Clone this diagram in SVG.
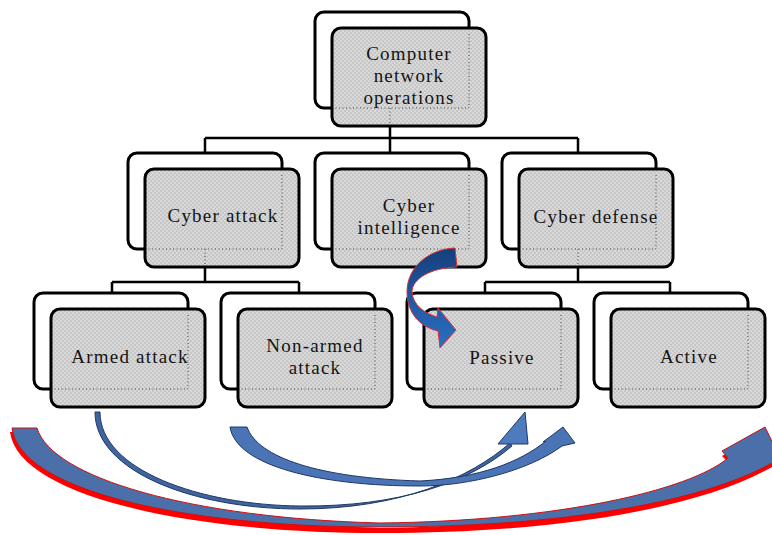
<svg xmlns="http://www.w3.org/2000/svg" width="772" height="535" viewBox="0 0 772 535">
<defs>
<pattern id="dots" width="4" height="4" patternUnits="userSpaceOnUse">
<rect width="4" height="4" fill="#c6c6c6"/>
<circle cx="1" cy="1" r="0.8" fill="#f2f2f2"/>
<circle cx="3" cy="3" r="0.8" fill="#f2f2f2"/>
</pattern>
<linearGradient id="gTop" x1="0" y1="0" x2="0" y2="1">
<stop offset="0" stop-color="#163f7c"/>
<stop offset="1" stop-color="#2c6ec4"/>
</linearGradient>
<style>
.back{fill:#fff;stroke:#000;stroke-width:3}
.front{fill:url(#dots);stroke:#000;stroke-width:3}
.dot{fill:none;stroke:#444;stroke-width:1;stroke-dasharray:1 2.5}
.t{font-family:"Liberation Serif","Times New Roman",serif;font-size:19px;fill:#141414;text-anchor:middle;letter-spacing:1.2px}
.conn{fill:none;stroke:#000;stroke-width:2.5}
</style>
</defs>
<rect width="772" height="535" fill="#fff"/>

<g id="connectors">
<path class="conn" d="M390 126 V138 M205 138 H578 M205 138 V153 M390 138 V153 M578 138 V153"/>
<path class="conn" d="M205 267 V282 M112 282 H299 M112 282 V293 M299 282 V293"/>
<path class="conn" d="M578 267 V282 M485 282 H670 M485 282 V293 M670 282 V293"/>
</g>

<g id="n-top">
<rect class="back" x="315" y="12" width="154" height="96" rx="9"/>
<rect class="front" x="332" y="28" width="154" height="98" rx="9"/>
<path class="dot" d="M469 34 V108 H335 M390 108 V125"/>
<text class="t" x="409" y="60">Computer</text>
<text class="t" x="409" y="82">network</text>
<text class="t" x="409" y="104">operations</text>
</g>

<g id="n-attack">
<rect class="back" x="128" y="153" width="154" height="96" rx="9"/>
<rect class="front" x="145" y="169" width="154" height="98" rx="9"/>
<path class="dot" d="M282 175 V249 H148 M205 249 V266"/>
<text class="t" x="223" y="222">Cyber attack</text>
</g>

<g id="n-intel">
<rect class="back" x="315" y="153" width="154" height="96" rx="9"/>
<rect class="front" x="332" y="169" width="154" height="98" rx="9"/>
<path class="dot" d="M469 175 V249 H335"/>
<text class="t" x="409" y="212">Cyber</text>
<text class="t" x="409" y="234">intelligence</text>
</g>

<g id="n-defense">
<rect class="back" x="502" y="153" width="154" height="96" rx="9"/>
<rect class="front" x="519" y="169" width="154" height="98" rx="9"/>
<path class="dot" d="M656 175 V249 H522 M578 249 V266"/>
<text class="t" x="596" y="223">Cyber defense</text>
</g>

<g id="n-armed">
<rect class="back" x="34" y="293" width="154" height="96" rx="9"/>
<rect class="front" x="51" y="309" width="154" height="98" rx="9"/>
<path class="dot" d="M188 315 V389 H54"/>
<text class="t" x="130" y="363">Armed attack</text>
</g>

<g id="n-nonarmed">
<rect class="back" x="221" y="293" width="154" height="96" rx="9"/>
<rect class="front" x="238" y="309" width="154" height="98" rx="9"/>
<path class="dot" d="M375 315 V389 H241"/>
<text class="t" x="315" y="352">Non-armed</text>
<text class="t" x="315" y="374">attack</text>
</g>

<g id="n-passive">
<rect class="back" x="407" y="293" width="154" height="96" rx="9"/>
<rect class="front" x="424" y="309" width="154" height="98" rx="9"/>
<path class="dot" d="M561 315 V389 H427"/>
<text class="t" x="502" y="364">Passive</text>
</g>

<g id="n-active">
<rect class="back" x="594" y="293" width="154" height="96" rx="9"/>
<rect class="front" x="611" y="309" width="154" height="98" rx="9"/>
<path class="dot" d="M748 315 V389 H614"/>
<text class="t" x="689" y="363">Active</text>
</g>

<g id="arrows">
<path d="M455 248 C430 249 407 266 407 292 C407 313 420 327 438 331 L440 348 L456 330 L438 308 L437 317 C424 313 413 305 412 292 C412 279 430 268 457 267 Z" fill="url(#gTop)" stroke="#e03030" stroke-width="1"/>
<path d="M10 432 L35 432 C50 482 190 522 380 528 C560 526 690 494 728 462 L722 456 L765 431 L785 472 L772 467 C700 508 560 533 380 533 C180 533 18 494 10 432 Z" fill="#ff0000"/>
<path d="M12 428 L37 428 C52 478 190 518 380 523 C560 521 690 490 728 458 L722 451 L765 427 L785 468 L772 463 C700 503 560 527 380 527 C180 527 20 490 12 428 Z" fill="#4b6fa8" stroke="#d01010" stroke-width="1"/>
<path d="M95 412 L100 412 C100 470 200 505 300 506 C400 507 470 482 512 446 L510 443 C470 478 400 509 300 509 C195 509 95 472 95 412 Z" fill="#3f64a0" stroke="#1f3864" stroke-width="1"/>
<path d="M498 444 L525 412 L528 444 Z" fill="#4e7bbd" stroke="#1f3864" stroke-width="1"/>
<path d="M230 427 L247 427 C258 458 320 478 420 481 C480 478 520 462 546 441 L543 442 L563 427 L575 443 L562 446 C530 470 470 486 420 486 C320 486 236 466 230 427 Z" fill="#4a74b5" stroke="#1f3864" stroke-width="1"/>
</g>
</svg>
